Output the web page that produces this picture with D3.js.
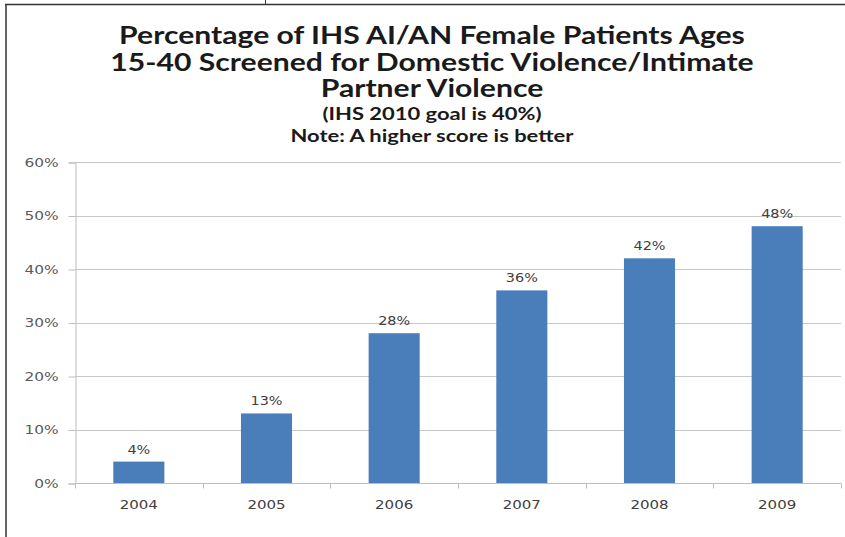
<!DOCTYPE html>
<html>
<head>
<meta charset="utf-8">
<script src="https://cdn.jsdelivr.net/npm/d3@7"></script>
<style>
  body { margin: 0; background: #fff; }
  svg { display: block; }
</style>
</head>
<body>
<svg id="chart" width="845" height="537"></svg>
<script>
const years = ["2004", "2005", "2006", "2007", "2008", "2009"];
const screened = [4, 13, 28, 36, 42, 48];
const yTicks = [0, 10, 20, 30, 40, 50, 60];
const titleLines = [
  "Percentage of IHS AI/AN Female Patients Ages",
  "15-40 Screened for Domestic Violence/Intimate",
  "Partner Violence"
];
const subLines = ["(IHS 2010 goal is 40%)", "Note: A higher score is better"];

let width = 845;
let height = 537;
let plotLeft = 75, plotRight = 841, plotTop = 162, plotBottom = 483;
let labelFont = "'DejaVu Sans', Verdana, sans-serif";

// the original picture is stretched sideways, so widen text the same way
let stretch = function(sel, k) {
  sel.each(function() {
    let w = this.getComputedTextLength();
    d3.select(this).attr("textLength", w * k).attr("lengthAdjust", "spacingAndGlyphs");
  });
};

let svg = d3.select("#chart");

// frame
svg.append("line").attr("x1", 5).attr("x2", width).attr("y1", 4.5).attr("y2", 4.5)
  .attr("stroke", "#333").attr("stroke-width", 1.5);
svg.append("line").attr("x1", 6).attr("x2", 6).attr("y1", 4).attr("y2", height)
  .attr("stroke", "#333").attr("stroke-width", 1.5);
svg.append("line").attr("x1", 265.5).attr("x2", 265.5).attr("y1", 0).attr("y2", 4)
  .attr("stroke", "#333").attr("stroke-width", 1);

let xScale = d3.scaleBand()
  .domain(years)
  .range([plotLeft, plotRight])
  .paddingInner(0.6)
  .paddingOuter(0.3);

let yScale = d3.scaleLinear()
  .domain([0, 60])
  .range([plotBottom, plotTop]);

// gridlines
svg.append("g")
  .selectAll("line")
  .data(yTicks.slice(1))
  .enter()
    .append("line")
    .attr("x1", plotLeft).attr("x2", plotRight)
    .attr("y1", d => Math.round(yScale(d)) + 0.5)
    .attr("y2", d => Math.round(yScale(d)) + 0.5)
    .attr("stroke", "#c8c8c8");

// y axis
let yAxis = d3.axisLeft(yScale)
  .tickValues(yTicks)
  .tickFormat(d => d + "%")
  .tickSize(7)
  .tickPadding(10);
let yg = svg.append("g")
  .attr("transform", `translate(${plotLeft + 0.5},0.5)`)
  .call(yAxis);
yg.select(".domain").attr("stroke", "#bdbdbd");
yg.selectAll(".tick line").attr("stroke", "#bdbdbd");
yg.selectAll(".tick text")
  .attr("fill", "#5a5a5a")
  .style("font-family", labelFont)
  .style("font-size", "12px")
  .call(stretch, 1.28);

// x axis
let step = xScale.step();
let xg = svg.append("g").attr("transform", `translate(0,${plotBottom + 0.5})`);
xg.append("line").attr("x1", plotLeft).attr("x2", plotRight).attr("stroke", "#bdbdbd");
xg.selectAll(".xt")
  .data(d3.range(years.length + 1))
  .enter()
    .append("line")
    .attr("x1", i => Math.round(plotLeft + i * step) + 0.5)
    .attr("x2", i => Math.round(plotLeft + i * step) + 0.5)
    .attr("y1", 0).attr("y2", 5)
    .attr("stroke", "#bdbdbd");
xg.selectAll("text")
  .data(years)
  .enter()
    .append("text")
    .attr("x", d => xScale(d) + xScale.bandwidth() / 2)
    .attr("y", 25)
    .attr("text-anchor", "middle")
    .attr("fill", "#404040")
    .style("font-family", labelFont)
    .style("font-size", "12px")
    .text(d => d)
    .call(stretch, 1.25);

// bars
svg.append("g")
  .selectAll("rect")
  .data(years)
  .enter()
    .append("rect")
    .attr("x", d => xScale(d))
    .attr("width", xScale.bandwidth())
    .attr("y", (d, i) => yScale(screened[i]))
    .attr("height", (d, i) => plotBottom - yScale(screened[i]))
    .attr("fill", "#4a7ebb");

// value labels
svg.append("g")
  .selectAll("text")
  .data(years)
  .enter()
    .append("text")
    .attr("x", d => xScale(d) + xScale.bandwidth() / 2)
    .attr("y", (d, i) => yScale(screened[i]) - 8)
    .attr("text-anchor", "middle")
    .attr("fill", "#404040")
    .style("font-family", labelFont)
    .style("font-size", "12px")
    .text((d, i) => screened[i] + "%")
    .call(stretch, 1.2);

// titles
let titleFont = "Lato, 'Open Sans', sans-serif";
svg.append("g")
  .selectAll("text")
  .data(titleLines)
  .enter()
    .append("text")
    .attr("x", 432)
    .attr("y", (d, i) => 44 + i * 26.5)
    .attr("text-anchor", "middle")
    .attr("fill", "#1a1a1a")
    .style("font-family", titleFont)
    .style("font-weight", "bold")
    .style("font-size", "24px")
    .text(d => d)
    .call(stretch, 1.255);

svg.append("g")
  .selectAll("text")
  .data(subLines)
  .enter()
    .append("text")
    .attr("x", 432)
    .attr("y", (d, i) => 120 + i * 22)
    .attr("text-anchor", "middle")
    .attr("fill", "#1a1a1a")
    .style("font-family", titleFont)
    .style("font-weight", "bold")
    .style("font-size", "16.5px")
    .text(d => d)
    .call(stretch, 1.33);
</script>
</body>
</html>
